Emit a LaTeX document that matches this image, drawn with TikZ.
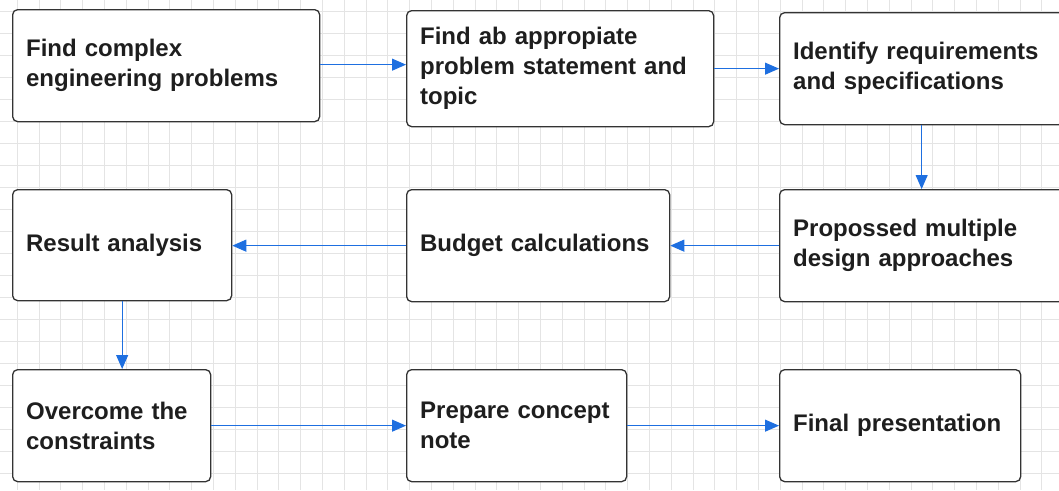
\documentclass[tikz,border=0pt]{standalone}
\usepackage{fontspec}
\setmainfont{Liberation Sans}
\usetikzlibrary{arrows.meta}
\definecolor{gridc}{HTML}{E4E4E4}
\definecolor{boxc}{HTML}{333333}
\definecolor{txtc}{HTML}{1E1E1E}
\definecolor{arrc}{HTML}{1E6FE0}
\tikzset{
  box/.style={draw=boxc, line width=1.3pt, rounded corners=5pt, fill=white,
    anchor=north west, align=left, inner sep=0pt,
    font=\fontsize{24}{30}\selectfont\bfseries, text=txtc},
  flow/.style={draw=arrc, line width=1pt, -{Triangle[length=14pt,width=12pt]}}
}
\begin{document}
\begin{tikzpicture}[x=1pt,y=-1pt]
\clip (0,0) rectangle (1059,490);
\fill[white] (0,0) rectangle (1059,490);
\foreach \i in {0,...,49} {\draw[gridc, line width=0.6pt] (17+21.8*\i,0) -- (17+21.8*\i,490);}
\foreach \j in {0,...,22} {\draw[gridc, line width=0.6pt] (0,11+22*\j) -- (1059,11+22*\j);}
% row 1
\node[box, minimum width=307pt, minimum height=112pt, text width=280pt] (b1) at (12,9) {Find complex\\engineering problems};
\node[box, minimum width=307pt, minimum height=116pt, text width=280pt] (b2) at (406,10) {Find ab appropiate\\problem statement and\\topic};
\node[box, minimum width=284pt, minimum height=112pt, text width=257pt] (b3) at (779,12) {Identify requirements\\and specifications};
% row 2
\node[box, minimum width=219pt, minimum height=111pt, text width=192pt] (b4) at (12,189) {Result analysis};
\node[box, minimum width=263pt, minimum height=112pt, text width=236pt] (b5) at (406,189) {Budget calculations};
\node[box, minimum width=284pt, minimum height=112pt, text width=257pt] (b6) at (779,189) {Propossed multiple\\design approaches};
% row 3
\node[box, minimum width=198pt, minimum height=112pt, text width=171pt] (b7) at (12,369) {Overcome the\\constraints};
\node[box, minimum width=220pt, minimum height=112pt, text width=193pt] (b8) at (406,369) {Prepare concept\\note};
\node[box, minimum width=241pt, minimum height=112pt, text width=214pt] (b9) at (779,369) {Final presentation};
% connectors
\draw[flow] ([yshift=1pt]b1.east) -- ([yshift=1pt]b1.east -| b2.west);
\draw[flow] (b2.east) -- (b2.east -| b3.west);
\draw[flow] (b3.south) -- (b6.north);
\draw[flow] (b6.west) -- (b6.west -| b5.east);
\draw[flow] (b6.west -| b5.west) -- (b6.west -| b4.east);
\draw[flow] (b4.south) -- (b4.south |- b7.north);
\draw[flow] (b7.east) -- (b7.east -| b8.west);
\draw[flow] (b8.east) -- (b8.east -| b9.west);
\end{tikzpicture}
\end{document}
